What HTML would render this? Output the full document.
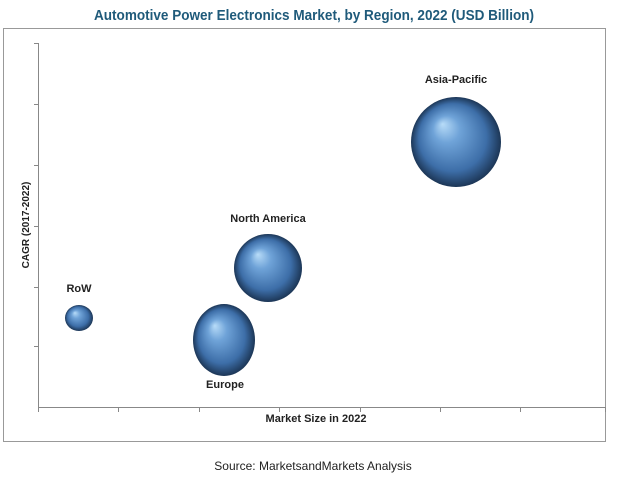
<!DOCTYPE html>
<html><head><style>
body{margin:0;background:#fff;width:617px;height:476px;overflow:hidden}
</style></head><body>
<svg width="617" height="476" viewBox="0 0 617 476" xmlns="http://www.w3.org/2000/svg">
<defs>
<radialGradient id="g" cx="0.5" cy="0.5" r="0.5" fx="0.35" fy="0.3">
<stop offset="0" stop-color="#b8dcf8"/>
<stop offset="0.3" stop-color="#6fa3d8"/>
<stop offset="0.75" stop-color="#3d6ea8"/>
<stop offset="1" stop-color="#1c3656"/>
</radialGradient>
</defs>
<text x="314" y="20" text-anchor="middle" font-family="Liberation Sans Narrow, Liberation Sans, sans-serif" font-size="15" font-weight="bold" fill="#1f5a7a" textLength="440" lengthAdjust="spacingAndGlyphs">Automotive Power Electronics Market, by Region, 2022 (USD Billion)</text>
<rect x="3.5" y="28.5" width="602" height="413" fill="none" stroke="#999"/>
<g stroke="#888" stroke-width="1">
<line x1="38.5" y1="43" x2="38.5" y2="407"/>
<line x1="38" y1="407.5" x2="606" y2="407.5"/>
<line x1="34" y1="43.5" x2="38" y2="43.5"/><line x1="34" y1="104.5" x2="38" y2="104.5"/>
<line x1="34" y1="165.5" x2="38" y2="165.5"/><line x1="34" y1="226.5" x2="38" y2="226.5"/>
<line x1="34" y1="287.5" x2="38" y2="287.5"/><line x1="34" y1="346.5" x2="38" y2="346.5"/>
<line x1="38.5" y1="407" x2="38.5" y2="412"/><line x1="118.5" y1="407" x2="118.5" y2="412"/>
<line x1="199.5" y1="407" x2="199.5" y2="412"/><line x1="279.5" y1="407" x2="279.5" y2="412"/>
<line x1="360.5" y1="407" x2="360.5" y2="412"/><line x1="440.5" y1="407" x2="440.5" y2="412"/>
<line x1="520.5" y1="407" x2="520.5" y2="412"/><line x1="605.5" y1="407" x2="605.5" y2="412"/>
</g>
<text transform="translate(29,225) rotate(-90)" text-anchor="middle" font-family="Liberation Sans, sans-serif" font-size="10" font-weight="bold" fill="#222">CAGR (2017-2022)</text>
<text x="316" y="422" text-anchor="middle" font-family="Liberation Sans, sans-serif" font-size="11" font-weight="bold" fill="#222">Market Size in 2022</text>
<ellipse cx="79" cy="318" rx="14" ry="13" fill="url(#g)"/>
<ellipse cx="224" cy="340" rx="31" ry="36" fill="url(#g)"/>
<ellipse cx="268" cy="268" rx="34" ry="34" fill="url(#g)"/>
<ellipse cx="456" cy="142" rx="45" ry="45" fill="url(#g)"/>
<g font-family="Liberation Sans, sans-serif" font-size="11" font-weight="bold" fill="#222" text-anchor="middle">
<text x="79" y="292">RoW</text>
<text x="225" y="388">Europe</text>
<text x="268" y="222">North America</text>
<text x="456" y="83">Asia-Pacific</text>
</g>
<text x="313" y="470" text-anchor="middle" font-family="Liberation Sans, sans-serif" font-size="12" fill="#222">Source: MarketsandMarkets Analysis</text>
</svg>
</body></html>
